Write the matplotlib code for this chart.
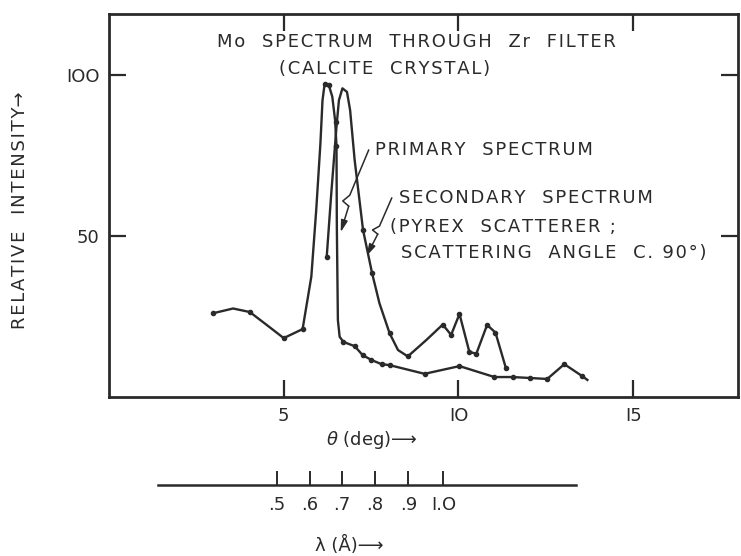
import matplotlib
matplotlib.use("Agg")
import matplotlib.pyplot as plt

prim_x = [2.97, 3.55, 4.03, 4.5, 5.0, 5.54, 5.79, 5.93, 6.05, 6.11, 6.17, 6.29,
          6.39, 6.47, 6.51, 6.52, 6.55, 6.6, 6.71, 7.03, 7.26, 7.51, 7.8, 8.03,
          9.03, 10.03, 11.03, 11.55, 12.06, 12.54, 13.03, 13.54, 13.69]
prim_y = [26.0, 27.5, 26.4, 22.5, 18.3, 21.1, 37.4, 58.1, 78.8, 92.2, 97.2, 96.9,
          93.3, 86.0, 78.0, 52.9, 23.9, 18.7, 17.1, 15.8, 13.0, 11.5, 10.2, 9.9,
          7.2, 9.6, 6.2, 6.2, 5.9, 5.6, 10.2, 6.5, 5.3]
prim_dot_x = [2.97, 4.03, 5.0, 5.54, 6.17, 6.29, 6.51, 6.51, 6.71, 7.03, 7.26, 7.51,
              7.8, 8.03, 9.03, 10.03, 11.03, 11.55, 12.06, 12.54, 13.03, 13.54]
prim_dot_y = [26.0, 26.4, 18.3, 21.1, 97.2, 96.9, 85.5, 78.0, 17.1, 15.8, 13.0, 11.5,
              10.2, 9.9, 7.2, 9.6, 6.2, 6.2, 5.9, 5.6, 10.2, 6.5]

# Secondary spectrum
sec_x = [6.23, 6.36, 6.51, 6.58, 6.68, 6.81, 6.9, 7.03, 7.27, 7.53, 7.74, 8.03,
         8.27, 8.55, 9.08, 9.55, 9.79, 10.03, 10.31, 10.51, 10.82, 11.06, 11.36]
sec_y = [43.5, 63.2, 84.0, 92.2, 95.9, 94.8, 89.1, 73.6, 51.9, 38.4, 29.1, 19.8,
         14.6, 12.6, 17.7, 22.5, 19.3, 25.8, 14.1, 13.4, 22.4, 20.0, 8.9]
sec_dot_x = [6.23, 7.27, 7.53, 8.03, 8.55, 9.55, 9.79, 10.03, 10.31, 10.51, 10.82,
             11.06, 11.36]
sec_dot_y = [43.5, 51.9, 38.4, 19.8, 12.6, 22.5, 19.3, 25.8, 14.1, 13.4, 22.4,
             20.0, 8.9]

# Pointer arrows (zig-zag leaders)
prim_arrow_x = [7.43, 6.89, 6.69, 6.86, 6.63]
prim_arrow_y = [76.7, 62.7, 60.9, 59.3, 51.2]
sec_arrow_x = [8.09, 7.74, 7.54, 7.69, 7.37]
sec_arrow_y = [61.8, 53.1, 51.9, 50.6, 43.8]

# Wavelength scale: tick positions on the theta scale
lam_labels = [".5", ".6", ".7", ".8", ".9", "I.O"]
lam_pos = [4.8, 5.74, 6.66, 7.6, 8.57, 9.57]

ink = "#2a2a2a"
fs = 13
plt.rcParams["font.family"] = ["DejaVu Sans"]


def sp(s):
    # wide lettering like the original stencil text
    return "\u200a".join(s)


fig = plt.figure(figsize=(7.41, 5.56), dpi=100)
ax = fig.add_axes([109 / 741, 1 - 397 / 556, 629 / 741, 383 / 556])
ax.set_xlim(0, 18)
ax.set_ylim(0, 119)

ax.plot(prim_x, prim_y, color=ink, lw=1.7)
ax.plot(prim_dot_x, prim_dot_y, "o", color=ink, ms=3)
ax.plot(sec_x, sec_y, color=ink, lw=1.7)
ax.plot(sec_dot_x, sec_dot_y, "o", color=ink, ms=3)

for axx, ayy in [(prim_arrow_x, prim_arrow_y), (sec_arrow_x, sec_arrow_y)]:
    ax.plot(axx[:-1], ayy[:-1], color=ink, lw=1.1)
    ax.annotate("", xy=(axx[-1], ayy[-1]), xytext=(axx[-2], ayy[-2]),
                arrowprops=dict(arrowstyle="-|>,head_length=0.7,head_width=0.2",
                                color=ink, lw=1.1, shrinkA=0, shrinkB=0))

for s in ax.spines.values():
    s.set_linewidth(2)
    s.set_color(ink)
ax.set_xticks([5, 10, 15])
ax.set_xticklabels(["5", "IO", "I5"])
ax.set_yticks([50, 100])
ax.set_yticklabels(["50", "IOO"])
ax.tick_params(direction="in", length=12, width=1.6, colors=ink, labelsize=fs,
               top=True, right=True, pad=7)

tkw = dict(fontsize=fs, color=ink, va="center")
ax.text(8.8, 110.2, sp("Mo  SPECTRUM  THROUGH  Zr  FILTER"), ha="center", **tkw)
ax.text(7.89, 101.9, sp("(CALCITE  CRYSTAL)"), ha="center", **tkw)
ax.text(7.6, 76.7, sp("PRIMARY  SPECTRUM"), ha="left", **tkw)
ax.text(8.31, 61.8, sp("SECONDARY  SPECTRUM"), ha="left", **tkw)
ax.text(8.03, 52.8, sp("(PYREX  SCATTERER ;"), ha="left", **tkw)
ax.text(8.37, 44.7, sp("SCATTERING  ANGLE  C. 90°)"), ha="left", **tkw)

fig.text(20 / 741, 1 - 210 / 556, sp("RELATIVE  INTENSITY") + "→", rotation=90,
         ha="center", **tkw)
fig.text(372 / 741, 1 - 440 / 556, r"$\theta$ (deg)⟶", ha="center", **tkw)

# wavelength scale below
lax = fig.add_axes([109 / 741, 1 - 485 / 556, 629 / 741, 0.01])
lax.set_xlim(0, 18)
lax.patch.set_visible(False)
for k in ["top", "left", "right"]:
    lax.spines[k].set_visible(False)
lax.spines["bottom"].set_bounds(1.4, 13.37)
lax.spines["bottom"].set_linewidth(1.8)
lax.spines["bottom"].set_color(ink)
lax.set_yticks([])
lax.set_xticks(lam_pos)
lax.set_xticklabels(lam_labels)
lax.tick_params(direction="in", length=10, width=1.4, colors=ink, labelsize=fs, pad=8)
fig.text(349 / 741, 1 - 545 / 556, "λ (Å)⟶", ha="center", **tkw)

fig.savefig("out.png", dpi=100)
